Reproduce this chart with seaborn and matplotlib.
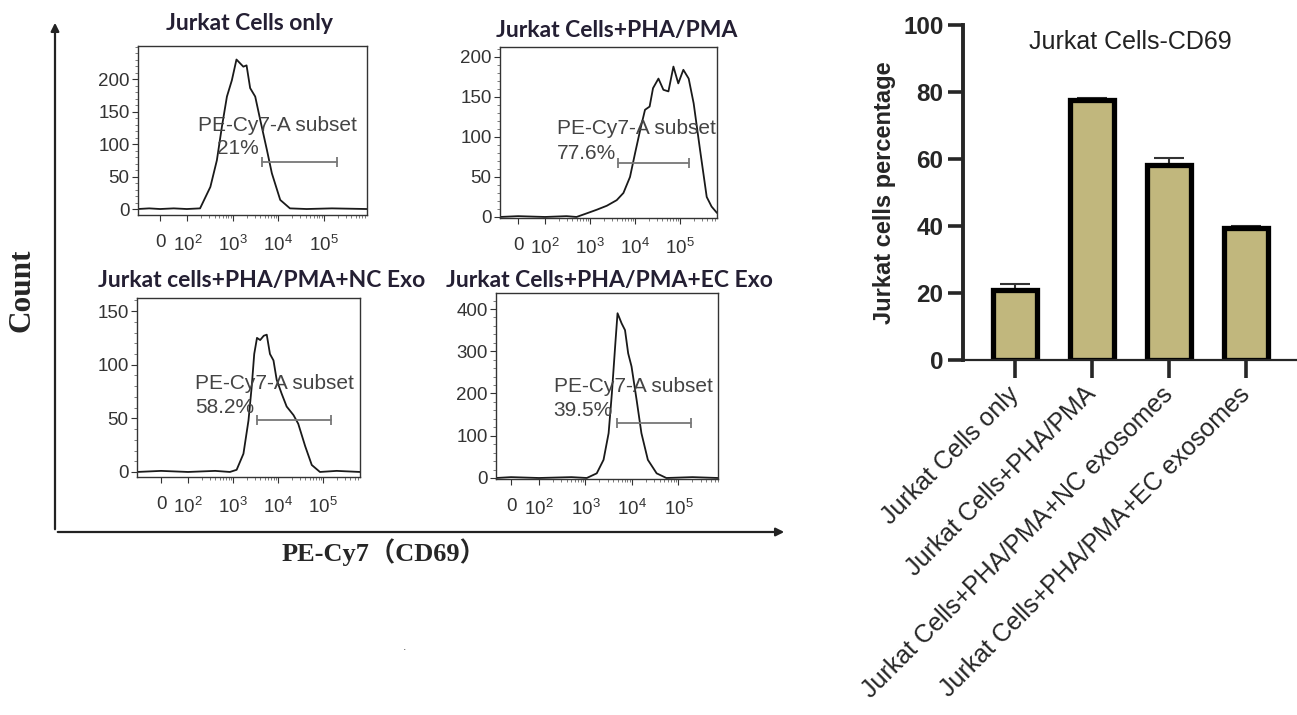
import numpy as np
import pandas as pd
import seaborn as sns
import matplotlib.pyplot as plt
from matplotlib.patches import FancyArrowPatch
from matplotlib.ticker import MultipleLocator, FixedLocator

# ---- flow histograms (PE-Cy7 intensity, event count) ----
p1_x = [-81, -40, 0, 50, 98, 190, 320, 445, 575, 740, 950, 1200, 1450, 1700, 2000,
        2400, 3100, 4000, 5600, 7200, 11000, 18000, 42000, 150000, 890000]
p1_y = [0, 1, 0, 1, 0, 1, 34, 75, 127, 173, 198, 230, 224, 219, 221,
        186, 173, 137, 91, 55, 14, 1, 0, 1, 0]

p2_x = [-67, 0, 100, 300, 500, 850, 1400, 2350, 3900, 5500, 7700, 10000, 13000, 16600,
        21000, 25000, 33000, 42500, 55000, 71000, 91000, 118000, 155000, 200000,
        277000, 390000, 500000, 660000]
p2_y = [0, 1, 0, 1, 0, 4.6, 9, 14, 21, 30, 50, 80, 109, 134,
        138, 161, 173, 159, 157, 188, 167, 184, 173, 142,
        84, 25, 13, 5]

p3_x = [-89, 0, 100, 400, 850, 1200, 1700, 2200, 2600, 2950, 3400, 4000, 4800, 5600,
        6600, 7900, 9300, 12000, 15500, 22000, 28000, 40000, 56000, 85000, 200000, 660000]
p3_y = [0, 1, 0, 1, 0, 2, 17, 48, 80, 110, 125, 123, 127, 128,
        110, 104, 86, 73, 61, 53, 45, 24, 6.5, 0, 1, 0]

p4_x = [-54, 0, 100, 500, 1070, 1750, 2450, 3150, 3700, 4400, 4900, 6000, 7100, 8300,
        9800, 12600, 16000, 22000, 34000, 55000, 200000, 710000]
p4_y = [0, 2, 0, 2, 0, 11, 43, 106, 200, 319, 390, 366, 350, 295,
        264, 185, 106, 43, 11, 0, 2, 0]

panel_titles = ["Jurkat Cells only", "Jurkat Cells+PHA/PMA",
                "Jurkat cells+PHA/PMA+NC Exo", "Jurkat Cells+PHA/PMA+EC Exo"]
gate_pct = ["21%", "77.6%", "58.2%", "39.5%"]
gate_lo = [4400, 4200, 3400, 4800]
gate_hi = [195000, 158000, 150000, 186000]
gate_lvl = [72, 67, 48, 130]
count_ticks = [[0, 50, 100, 150, 200], [0, 50, 100, 150, 200],
               [0, 50, 100, 150], [0, 100, 200, 300, 400]]

# ---- bar chart ----
groups = ["Jurkat Cells only", "Jurkat Cells+PHA/PMA",
          "Jurkat Cells+PHA/PMA+NC exosomes", "Jurkat Cells+PHA/PMA+EC exosomes"]
pct = [21.0, 77.6, 58.2, 39.5]
pct_err = [1.8, 0.5, 2.2, 0.5]

W, H = 1297, 715
sns.set_theme(style="ticks")
plt.rcParams["font.family"] = ["Liberation Sans", "DejaVu Sans"]
plt.rcParams["mathtext.fontset"] = "custom"
plt.rcParams["mathtext.rm"] = "Liberation Sans"

fig = plt.figure(figsize=(W / 100, H / 100), dpi=100)


def px_axes(l, t, r, b):
    return fig.add_axes([l / W, 1 - b / H, (r - l) / W, (b - t) / H])


def fig_xy(x, y):
    return x / W, 1 - y / H


boxes = [(138, 46, 367, 215), (500, 47, 717, 218), (137, 298, 360, 477), (496, 293, 718, 479)]
xlims = [(-81, 8.9e5), (-67, 6.6e5), (-89, 6.6e5), (-54, 7.1e5)]
ylims = [(-9.2, 250.8), (-1.3, 212.5), (-4.7, 162.2), (-2.4, 437.9)]
curves = [(p1_x, p1_y), (p2_x, p2_y), (p3_x, p3_y), (p4_x, p4_y)]
txt_pos = [((0.262, 0.527), (0.345, 0.396)), ((0.263, 0.526), (0.263, 0.38)),
           ((0.26, 0.525), (0.26, 0.39)), ((0.26, 0.5), (0.26, 0.37))]
title_pos = [(250, 23), (617, 30), (262, 280), (609, 281)]

minor_x = [m * 10 ** k for k in range(2, 6) for m in range(2, 10)]

for i in range(4):
    ax = px_axes(*boxes[i])
    cx, cy = curves[i]
    sns.lineplot(x=cx, y=cy, ax=ax, color="#1a1a1a", lw=1.3, sort=False, estimator=None)
    ax.set_xscale("symlog", linthresh=100, linscale=0.54)
    ax.set_xlim(*xlims[i])
    ax.set_ylim(*ylims[i])
    ax.set_xticks([0, 1e2, 1e3, 1e4, 1e5])
    ax.set_xticklabels(["0", r"$\mathregular{10^2}$", r"$\mathregular{10^3}$",
                        r"$\mathregular{10^4}$", r"$\mathregular{10^5}$"])
    ax.xaxis.set_minor_locator(FixedLocator(minor_x))
    ax.set_yticks(count_ticks[i])
    step = count_ticks[i][1] - count_ticks[i][0]
    ax.yaxis.set_minor_locator(MultipleLocator(step / 5))
    ax.tick_params(axis="x", which="major", length=4, width=0.8, pad=10,
                   labelsize=13.5, colors="#333333")
    ax.tick_params(axis="y", which="major", length=4, width=0.8, pad=2,
                   labelsize=13.5, colors="#333333")
    ax.tick_params(which="minor", length=2, width=0.6, colors="#666666")
    for s in ax.spines.values():
        s.set_linewidth(1.0)
        s.set_color("#333333")
    ax.set_xlabel("")
    ax.set_ylabel("")
    # gate
    ax.plot([gate_lo[i], gate_hi[i]], [gate_lvl[i], gate_lvl[i]], color="#777777",
            lw=1.3, marker="|", markersize=7, markeredgewidth=1.3)
    (sx, sy), (qx, qy) = txt_pos[i]
    ax.text(sx, sy, "PE-Cy7-A subset", transform=ax.transAxes, ha="left", va="center",
            fontsize=15, color="#444444")
    ax.text(qx, qy, gate_pct[i], transform=ax.transAxes, ha="left", va="center",
            fontsize=15, color="#444444")
    tx, ty = fig_xy(*title_pos[i])
    fig.text(tx, ty, panel_titles[i], ha="center", va="center", fontsize=16.5,
             fontweight="bold", family=["Lato", "DejaVu Sans"], color="#241f33")

# big axis arrows around the histograms
for end in [(55, 20), (787, 532)]:
    arr = FancyArrowPatch(fig_xy(55, 532), fig_xy(*end), transform=fig.transFigure,
                          arrowstyle="-|>", mutation_scale=12, lw=1.6, color="#222222")
    fig.add_artist(arr)

cx_, cy_ = fig_xy(22, 290)
fig.text(cx_, cy_, "Count", rotation=90, ha="center", va="center", fontsize=22.5,
         fontweight="bold", family=["Liberation Serif", "Noto Sans CJK SC"])
lx, ly = fig_xy(384, 552)
fig.text(lx, ly, "PE-Cy7（CD69）", ha="center", va="center", fontsize=19,
         fontweight="bold", family=["Liberation Serif", "Noto Sans CJK SC"])
dx, dy = fig_xy(405, 647)
fig.text(dx, dy, ".", ha="center", va="center", fontsize=9, color="#555555")

# ---- bar chart ----
bx = px_axes(963, 25, 1297, 360)
df = pd.DataFrame({"group": groups, "pct": pct})
sns.barplot(data=df, x="group", y="pct", ax=bx, color="#c1b77d", saturation=1,
            width=0.58, edgecolor="black", linewidth=3.8, errorbar=None)
bx.errorbar(range(len(groups)), pct, yerr=[np.zeros(len(pct)), pct_err], fmt="none",
            ecolor="#333333", elinewidth=1.5, capsize=11, capthick=1.5, zorder=0.5)
bx.set_xlim(-0.675, 3.66)
bx.set_ylim(0, 100)
bx.set_yticks([0, 20, 40, 60, 80, 100])
bx.set_xlabel("")
bx.set_ylabel("Jurkat cells percentage", fontsize=17, fontweight="bold")
bx.yaxis.set_label_coords(-0.2, 0.5)
for lab in bx.get_yticklabels():
    lab.set_fontweight("bold")
bx.tick_params(axis="y", length=11, width=2.6, labelsize=17.5, pad=3)
bx.tick_params(axis="x", length=13, width=2.6, labelsize=18, pad=9)
plt.setp(bx.get_xticklabels(), rotation=45, ha="right", va="center", rotation_mode="anchor")
bx.spines["left"].set_linewidth(2.8)
bx.spines["bottom"].set_linewidth(1.6)
sns.despine(ax=bx)
bx.text(0.5, 0.949, "Jurkat Cells-CD69", transform=bx.transAxes, ha="center",
        va="center", fontsize=18, color="#222222")

fig.savefig("out.png", dpi=100)
